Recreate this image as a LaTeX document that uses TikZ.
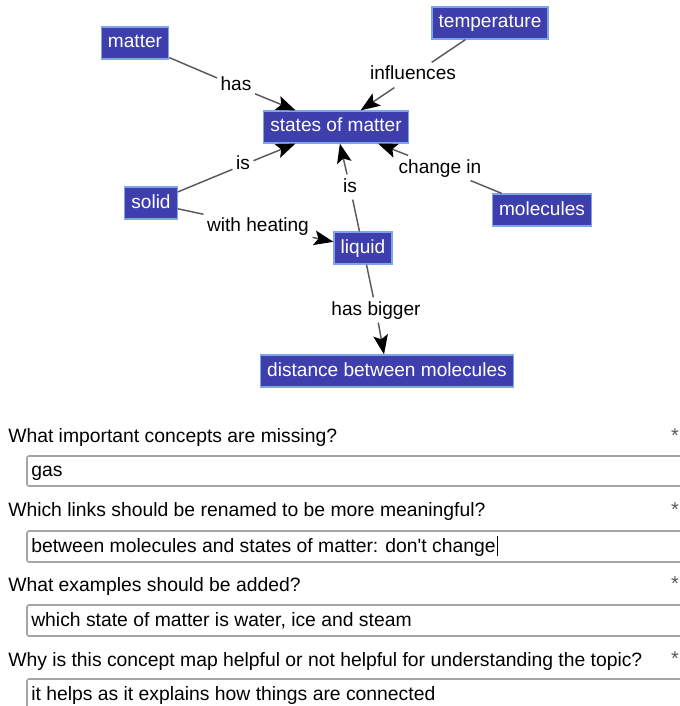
\documentclass[tikz,border=0pt]{standalone}
\usepackage{fontspec}
\setmainfont{Liberation Sans}
\usetikzlibrary{arrows.meta, positioning}

\definecolor{conceptblue}{RGB}{62,62,172}
\definecolor{conceptedge}{RGB}{125,165,235}
\definecolor{linkgray}{RGB}{90,90,90}
\definecolor{fieldgray}{RGB}{165,165,165}

\begin{document}
\begin{tikzpicture}[
    x=0.75pt, y=-0.75pt,
    concept/.style={rectangle, draw=conceptedge, line width=0.9pt, fill=conceptblue, text=white, font=\fontsize{14.3}{16}\selectfont, inner xsep=5pt, inner ysep=0pt, text height=10.5pt, text depth=3pt, minimum height=24pt},
    linkword/.style={font=\fontsize{14.3}{16}\selectfont, inner sep=2.5pt, text height=10.5pt, text depth=3pt},
    link/.style={draw=linkgray, line width=1.1pt},
    arrow/.style={link, -{Stealth[length=14.5pt, width=11pt, inset=3pt, color=black]}},
    question/.style={anchor=base west, font=\fontsize{14.5}{16}\selectfont, inner sep=0pt},
    answer/.style={anchor=base west, font=\fontsize{14.5}{16}\selectfont, inner sep=0pt},
    field/.style={draw=fieldgray, line width=1.2pt, rounded corners=1.5pt},
    star/.style={text=black!65, font=\fontsize{15}{16}\selectfont, inner sep=0pt}
]
\useasboundingbox (0,0) rectangle (680,706);
\clip (0,0) rectangle (680,706);

% Concepts
\node[concept] (matter) at (135,43) {matter};
\node[concept] (temperature) at (490,23) {temperature};
\node[concept] (states) at (336,127) {states of matter};
\node[concept] (solid) at (151,203) {solid};
\node[concept] (molecules) at (542,210) {molecules};
\node[concept] (liquid) at (363,248) {liquid};
\node[concept] (distance) at (387,371) {distance between molecules};

% Linking words
\node[linkword] (has) at (236,86) {has};
\node[linkword] (influences) at (413,75) {influences};
\node[linkword] (issolid) at (243,165) {is};
\node[linkword] (isliquid) at (350,187) {is};
\node[linkword] (changein) at (440,168) {change in};
\node[linkword] (heating) at (258,226) {with heating};
\node[linkword] (bigger) at (376,310) {has bigger};

% Links
\draw[link] (matter) -- (has);
\draw[arrow] (has) -- (states);
\draw[link] (temperature) -- (influences);
\draw[arrow] (influences) -- (states);
\draw[link] (solid) -- (issolid);
\draw[arrow] (issolid) -- (states);
\draw[link] (liquid) -- (isliquid);
\draw[arrow] (isliquid) -- (states);
\draw[link] (molecules) -- (changein);
\draw[arrow] (changein) -- (states);
\draw[link] (solid) -- (heating);
\draw[arrow] (heating) -- (liquid);
\draw[link] (liquid) -- (bigger);
\draw[arrow] (bigger) -- (distance);

% Questions
\node[question] (q1) at (8,442) {What important concepts are missing?};
\node[question] (q2) at (8,516) {Which links should be renamed to be more meaningful?};
\node[question] (q3) at (8,591) {What examples should be added?};
\node[question] (q4) at (8,666) {Why is this concept map helpful or not helpful for understanding the topic?};

\node[star] (s1) at (675,436) {*};
\node[star] (s2) at (675,510) {*};
\node[star] (s3) at (675,584) {*};
\node[star] (s4) at (675,659) {*};

% Answer fields
\draw[field] (27,456) rectangle (700,486);
\draw[field] (27,531) rectangle (700,562);
\draw[field] (27,605) rectangle (700,636);
\draw[field] (27,679) rectangle (700,712);

\node[answer] (a1) at (31,476) {gas};
\node[answer] (a2) at (31,552) {between molecules and states of matter: don\textquotesingle t change};
\node[answer] (a3) at (31,626) {which state of matter is water, ice and steam};
\node[answer] (a4) at (31,700) {it helps as it explains how things are connected};
\draw[line width=0.8pt] ([xshift=1pt]a2.south east) -- ([xshift=1pt, yshift=1pt]a2.north east);

\end{tikzpicture}
\end{document}
